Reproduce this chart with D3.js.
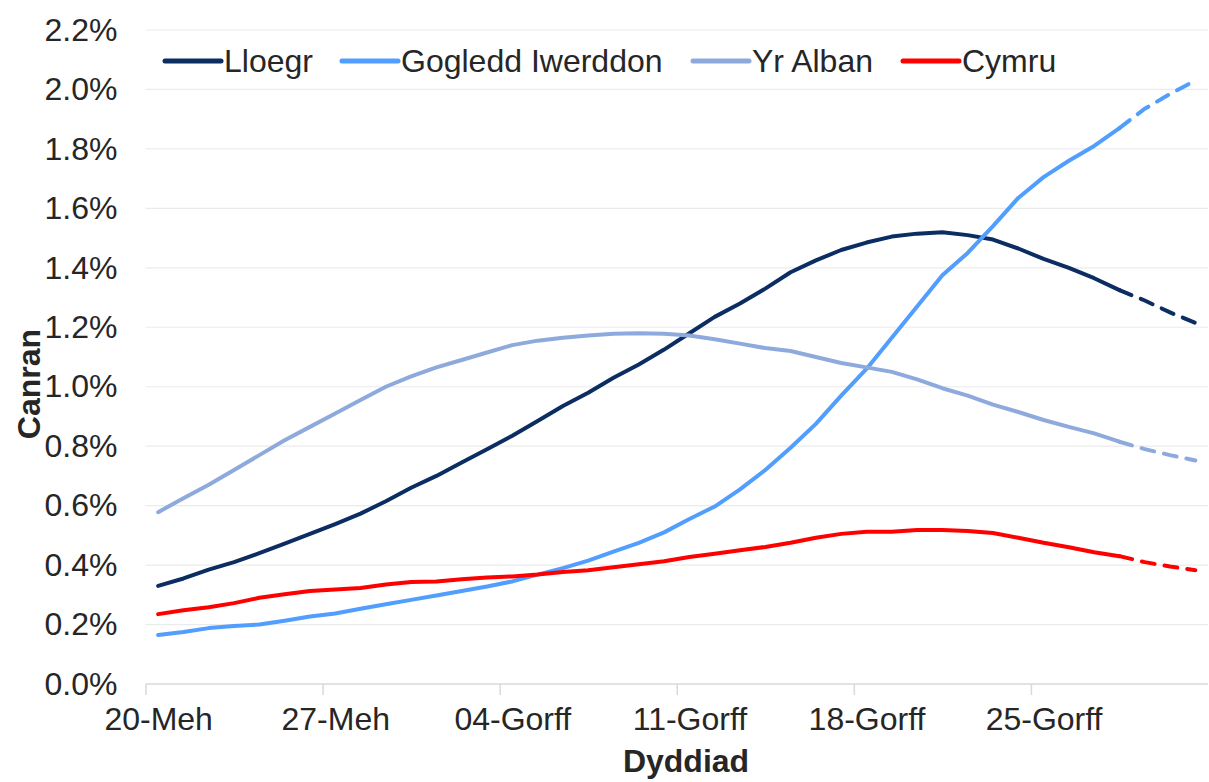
<!DOCTYPE html>
<html>
<head>
<meta charset="utf-8">
<script src="https://cdn.jsdelivr.net/npm/d3@7"></script>
<style>
  body { margin: 0; background: #fff; }
  svg { font-family: "Liberation Sans", Arial, sans-serif; }
</style>
</head>
<body>
<svg width="1209" height="782"></svg>
<script>
// daily modelled estimates, 20 June to 31 July (percent)
let startDate = new Date(2020, 5, 20);
let endDate = new Date(2020, 7, 1);
let tickLabels = ['20-Meh', '27-Meh', '04-Gorff', '11-Gorff', '18-Gorff', '25-Gorff'];
let projectedFrom = 38; // last few days drawn dashed

let england = [0.33, 0.355, 0.385, 0.41, 0.44, 0.472, 0.505, 0.538, 0.573, 0.615,
  0.66, 0.70, 0.745, 0.79, 0.835, 0.885, 0.935, 0.98, 1.03, 1.075,
  1.125, 1.18, 1.235, 1.28, 1.33, 1.385, 1.425, 1.46, 1.485, 1.505,
  1.515, 1.52, 1.51, 1.495, 1.465, 1.43, 1.40, 1.365, 1.325, 1.29,
  1.25, 1.215];
let northernIreland = [0.165, 0.175, 0.188, 0.195, 0.20, 0.213, 0.227, 0.237, 0.253, 0.268,
  0.283, 0.298, 0.313, 0.328, 0.345, 0.368, 0.39, 0.415, 0.445, 0.475,
  0.51, 0.555, 0.597, 0.655, 0.72, 0.795, 0.875, 0.97, 1.06, 1.165,
  1.27, 1.375, 1.45, 1.54, 1.635, 1.705, 1.76, 1.81, 1.87, 1.935,
  1.985, 2.03];
let scotland = [0.578, 0.625, 0.67, 0.72, 0.77, 0.82, 0.865, 0.91, 0.955, 1.00,
  1.035, 1.065, 1.09, 1.115, 1.14, 1.155, 1.165, 1.172, 1.178, 1.18,
  1.178, 1.172, 1.16, 1.145, 1.13, 1.12, 1.10, 1.08, 1.065, 1.05,
  1.025, 0.995, 0.97, 0.94, 0.915, 0.888, 0.865, 0.843, 0.815, 0.79,
  0.77, 0.752];
let wales = [0.235, 0.248, 0.258, 0.272, 0.29, 0.302, 0.313, 0.318, 0.323, 0.335,
  0.343, 0.345, 0.352, 0.358, 0.362, 0.368, 0.377, 0.383, 0.393, 0.403,
  0.413, 0.427, 0.438, 0.45, 0.461, 0.475, 0.492, 0.505, 0.512, 0.512,
  0.518, 0.518, 0.515, 0.508, 0.492, 0.475, 0.46, 0.443, 0.43, 0.41,
  0.395, 0.383];

let seriesNames = ['Lloegr', 'Gogledd Iwerddon', 'Yr Alban', 'Cymru'];
let seriesColors = ['#0b2d62', '#519eff', '#8eaadc', '#ff0000'];
let seriesValues = [england, northernIreland, scotland, wales];

let svg = d3.select('svg');
let plotLeft = 145.5, plotRight = 1208, plotTop = 30, plotBottom = 684;
let textColor = '#262626';
let fontSize = 32;

let days = d3.timeDay.range(startDate, endDate);
let x = d3.scaleTime().domain([startDate, endDate]).range([plotLeft, plotRight]);
let y = d3.scaleLinear().domain([0, 2.2]).range([plotBottom, plotTop]);
let mid = function(d) { return x(d3.timeHour.offset(d, 12)); };
let halfDay = mid(startDate) - x(startDate);

// gridlines
svg.append('g')
  .selectAll('line')
  .data(d3.range(0.2, 2.21, 0.2))
  .enter().append('line')
  .attr('x1', plotLeft).attr('x2', plotRight)
  .attr('y1', function(d) { return y(d); })
  .attr('y2', function(d) { return y(d); })
  .attr('stroke', '#ebebeb')
  .attr('stroke-width', 1.2);

// y axis
let yAxis = svg.append('g')
  .attr('transform', 'translate(' + plotLeft + ',0)')
  .call(d3.axisLeft(y)
    .tickValues(d3.range(0, 2.21, 0.2))
    .tickSize(0)
    .tickPadding(28)
    .tickFormat(function(d) { return d.toFixed(1) + '%'; }));
yAxis.select('.domain').remove();
yAxis.selectAll('text')
  .attr('font-size', fontSize)
  .attr('fill', textColor)
  .attr('font-family', '"Liberation Sans", Arial, sans-serif');

// x axis (labels sit in the middle of their day slot)
let tickDates = d3.range(0, 42, 7).map(function(i) { return days[i]; });
let xAxis = svg.append('g')
  .attr('transform', 'translate(0,' + plotBottom + ')')
  .call(d3.axisBottom(x)
    .tickValues(tickDates)
    .tickSize(11)
    .tickPadding(12)
    .tickFormat(function(d, i) { return tickLabels[i]; }));
xAxis.select('.domain')
  .attr('stroke', '#d9d9d9')
  .attr('stroke-width', 1.5)
  .attr('d', 'M' + plotLeft + ',0H' + plotRight);
xAxis.selectAll('.tick line').attr('stroke', '#d9d9d9').attr('stroke-width', 1.5);
xAxis.selectAll('text')
  .attr('x', halfDay)
  .attr('font-size', fontSize)
  .attr('fill', textColor)
  .attr('font-family', '"Liberation Sans", Arial, sans-serif');

// axis titles
svg.append('text')
  .attr('transform', 'translate(40,384) rotate(-90)')
  .attr('text-anchor', 'middle')
  .attr('font-size', fontSize)
  .attr('font-weight', 'bold')
  .attr('fill', textColor)
  .text('Canran');
svg.append('text')
  .attr('x', 686)
  .attr('y', 772)
  .attr('text-anchor', 'middle')
  .attr('font-size', fontSize)
  .attr('font-weight', 'bold')
  .attr('fill', textColor)
  .text('Dyddiad');

// lines
let line = d3.line()
  .x(function(d) { return mid(d.date); })
  .y(function(d) { return y(d.value); });

seriesValues.forEach(function(values, s) {
  let pts = values.map(function(v, i) { return {date: days[i], value: v}; });
  svg.append('path')
    .datum(pts.slice(0, projectedFrom + 1))
    .attr('fill', 'none')
    .attr('stroke', seriesColors[s])
    .attr('stroke-width', 4)
    .attr('stroke-linejoin', 'round')
    .attr('stroke-linecap', 'round')
    .attr('d', line);
  svg.append('path')
    .datum(pts.slice(projectedFrom))
    .attr('fill', 'none')
    .attr('stroke', seriesColors[s])
    .attr('stroke-width', 4)
    .attr('stroke-dasharray', '13,10')
    .attr('stroke-linecap', 'round')
    .attr('d', line);
});

// legend
let legendX = [165, 342, 693, 903];
let legend = svg.append('g');
seriesNames.forEach(function(name, s) {
  legend.append('line')
    .attr('x1', legendX[s]).attr('x2', legendX[s] + 56)
    .attr('y1', 61).attr('y2', 61)
    .attr('stroke', seriesColors[s])
    .attr('stroke-width', 5)
    .attr('stroke-linecap', 'round');
  legend.append('text')
    .attr('x', legendX[s] + 59)
    .attr('y', 72)
    .attr('font-size', fontSize)
    .attr('fill', textColor)
    .text(name);
});
</script>
</body>
</html>
